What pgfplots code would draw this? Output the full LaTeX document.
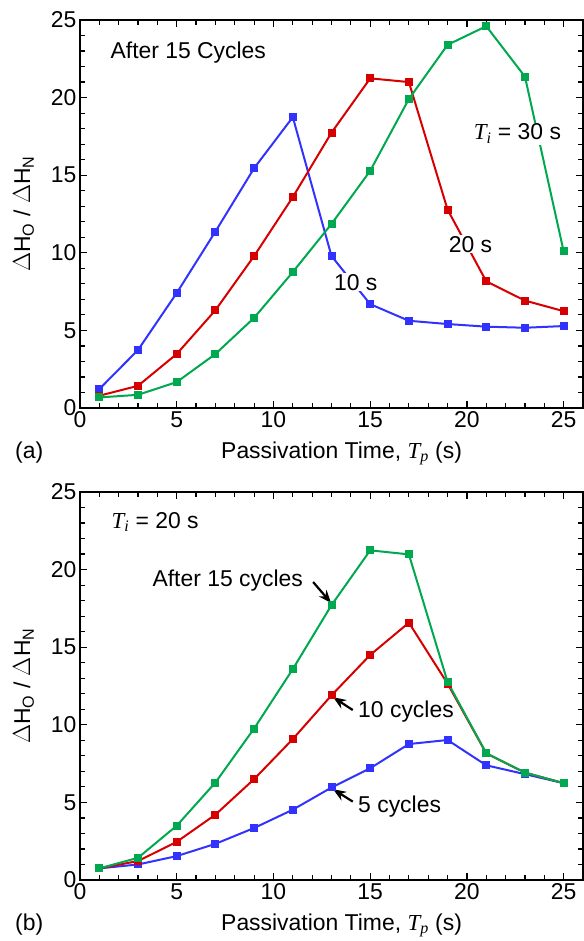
\documentclass[border=0pt]{standalone}
\usepackage{fontspec}
\setmainfont{Liberation Sans}
\newfontfamily\serif{Liberation Serif}
\usepackage{pgfplots}
\pgfplotsset{compat=1.18}
\usetikzlibrary{arrows.meta}

\definecolor{cblue}{RGB}{50,50,255}
\definecolor{cred}{RGB}{215,0,0}
\definecolor{cgreen}{RGB}{0,168,80}

\newcommand{\Tsub}[1]{{\serif\itshape T}\textsubscript{\serif\itshape #1}}
\newcommand{\bigfont}{\fontsize{23}{27}\selectfont}

\pgfplotsset{
  panel/.style={
    width=503bp, height=388bp, scale only axis, clip=false,
    xmin=0, xmax=26, ymin=0, ymax=25,
    xtick={0,5,...,25}, ytick={0,5,...,25},
    minor x tick num=4, minor y tick num=4,
    tick align=inside,
    major tick length=7bp, minor tick length=5bp,
    axis line style={line width=2bp},
    every tick/.style={black, line width=1.2bp},
    tick label style={font=\bigfont},
    label style={font=\bigfont},
    /pgf/number format/assume math mode=true,
    ylabel={$\Delta$H\textsubscript{O} / $\Delta$H\textsubscript{N}},
    ylabel style={at={(axis description cs:-0.099,0.5)}, anchor=base},
    xlabel={Passivation Time, \Tsub{p} (s)},
    xlabel style={at={(axis description cs:0.52,-0.129)}, anchor=base},
    every axis plot/.append style={line width=2bp, mark=square*, mark size=3bp, mark options={solid}},
  },
}
\tikzset{arr/.style={-{Stealth[length=13bp,width=10bp]}, line width=2.2bp, black}}

\begin{document}
\begin{tikzpicture}[font=\bigfont]
\useasboundingbox (0,0) rectangle (584bp,941bp);

% (a) after 15 cycles, different T_i
\begin{axis}[panel, at={(80bp,533bp)}, anchor=south west]
\addplot[cblue] coordinates {(1,1.22)(3,3.74)(5,7.41)(7,11.37)(9,15.45)(11,18.74)(13,9.79)(15,6.69)(17,5.62)(19,5.41)(21,5.24)(23,5.17)(25,5.28)};
\addplot[cred] coordinates {(1,0.79)(3,1.43)(5,3.48)(7,6.30)(9,9.79)(11,13.59)(13,17.74)(15,21.24)(17,21.0)(19,12.78)(21,8.16)(23,6.92)(25,6.24)};
\addplot[cgreen] coordinates {(1,0.68)(3,0.85)(5,1.67)(7,3.48)(9,5.81)(11,8.76)(13,11.86)(15,15.28)(17,19.91)(19,23.4)(21,24.6)(23,21.35)(25,10.09)};
\node[anchor=base west] at (axis cs:1.4,22.55) {After 15 Cycles};
\node[anchor=base west, fill=white, inner sep=1bp] at (axis cs:20.3,17.27) {\Tsub{i} = 30 s};
\node[anchor=base west, fill=white, inner sep=1bp] at (axis cs:19.0,10.05) {20 s};
\node[anchor=base west, fill=white, inner sep=1bp] at (axis cs:13.07,7.6) {10 s};
\node[anchor=base] at (axis description cs:-0.101,-0.129) {(a)};
\end{axis}

% (b) T_i = 20 s, different cycle counts
\begin{axis}[panel, at={(80bp,61bp)}, anchor=south west]
\addplot[cblue] coordinates {(1,0.75)(3,1.0)(5,1.54)(7,2.33)(9,3.35)(11,4.53)(13,5.96)(15,7.2)(17,8.76)(19,9.02)(21,7.39)(23,6.82)(25,6.24)};
\addplot[cred] coordinates {(1,0.75)(3,1.22)(5,2.46)(7,4.21)(9,6.5)(11,9.08)(13,11.9)(15,14.5)(17,16.58)(19,12.65)(21,8.16)(23,6.92)(25,6.24)};
\addplot[cgreen] coordinates {(1,0.75)(3,1.43)(5,3.5)(7,6.28)(9,9.76)(11,13.59)(13,17.71)(15,21.24)(17,20.98)(19,12.76)(21,8.16)(23,6.92)(25,6.24)};
\node[anchor=base west] at (axis cs:1.45,22.68) {\Tsub{i} = 20 s};
\node[anchor=base west] at (axis cs:3.57,18.88) {After 15 cycles};
\node[anchor=base west] at (axis cs:14.2,10.44) {10 cycles};
\node[anchor=base west] at (axis cs:14.2,4.38) {5 cycles};
\draw[arr] (axis cs:12.05,19.2) -- (axis cs:12.98,17.85);
\draw[arr] (axis cs:14.1,10.95) -- (axis cs:13.08,11.78);
\draw[arr] (axis cs:14.1,5.05) -- (axis cs:13.08,5.85);
\node[anchor=base] at (axis description cs:-0.101,-0.129) {(b)};
\end{axis}
\end{tikzpicture}
\end{document}
